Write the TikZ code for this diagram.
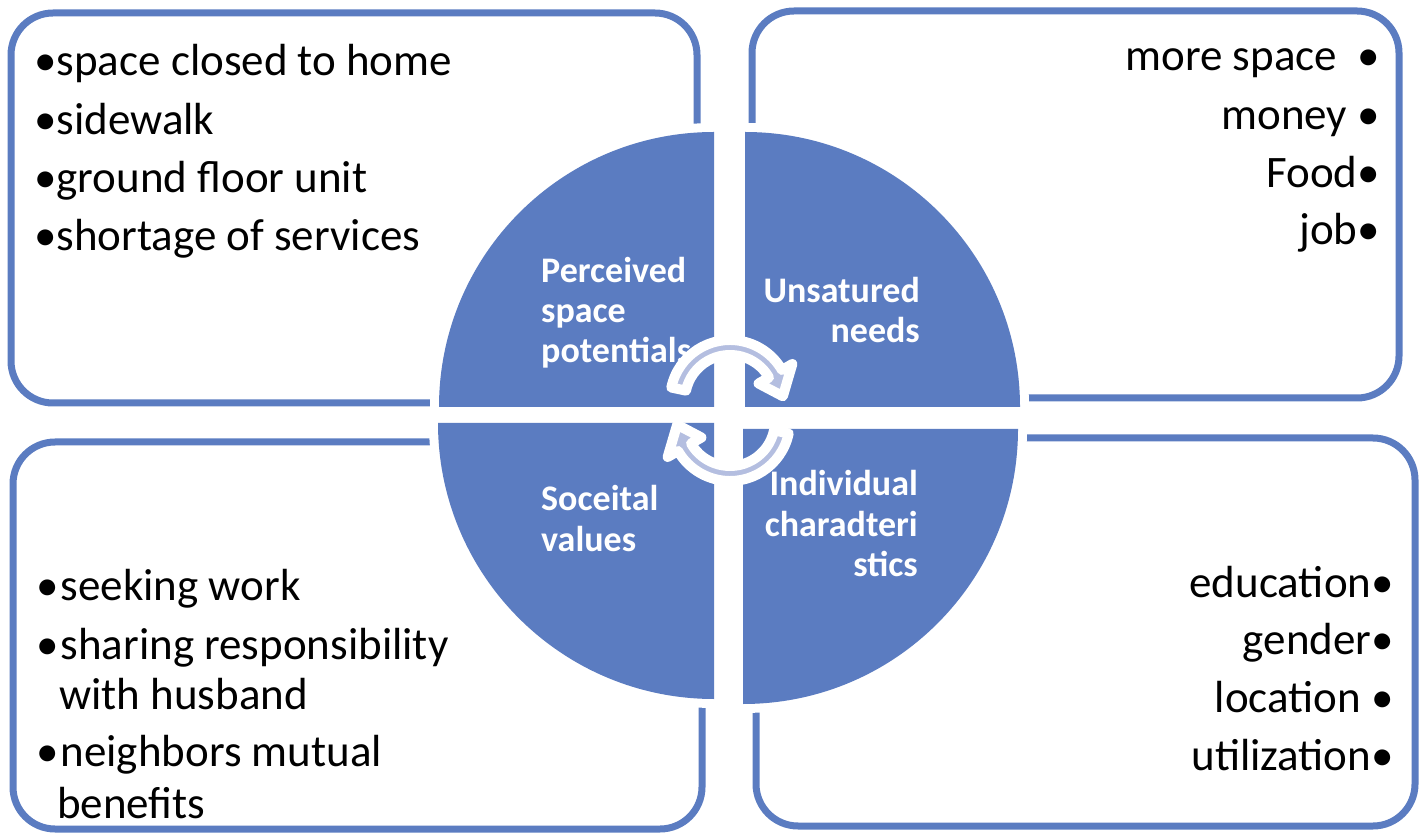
\documentclass[tikz,border=0pt]{standalone}
\usepackage{fontspec}
\setmainfont{Carlito}
\definecolor{quad}{RGB}{91,124,193}
\definecolor{arrowfill}{RGB}{180,190,224}
\begin{document}
\begin{tikzpicture}[x=1pt,y=1pt,
  panel/.style={draw=quad, line width=7pt, rounded corners=42pt, fill=white},
  halo/.style={fill=white, draw=white, line width=18pt, line join=round},
  quarter/.style={fill=quad},
  itemtext/.style={inner sep=0pt, font=\fontsize{45}{54}\selectfont, text=black},
  quadlabel/.style={inner sep=0pt, font=\fontsize{36}{40}\selectfont\bfseries, text=white},
  cyclearrow/.style={fill=arrowfill, draw=white, line width=10pt, line join=round}]
\useasboundingbox (0,0) rectangle (1426,836);

% four outer panels
\draw[panel] (11,433) rectangle (697,823);
\draw[panel] (752,438) rectangle (1399,825);
\draw[panel] (13,7) rectangle (702,394);
\draw[panel] (756,10) rectangle (1415,398);

% white halos that cut the panel borders around the central disc
\path[halo] (714,429) -- (439,429) arc[start angle=180,end angle=90,radius=275] -- cycle;
\path[halo] (745,429) -- (1020,429) arc[start angle=0,end angle=90,radius=275] -- cycle;
\path[halo] (714,413) -- (438,413) arc[start angle=180,end angle=270,radius=276] -- cycle;
\path[halo] (743,407) -- (1018,407) arc[start angle=0,end angle=-90,radius=275] -- cycle;

% the four quarters of the disc
\fill[quarter] (714,429) -- (439,429) arc[start angle=180,end angle=90,radius=275] -- cycle;
\fill[quarter] (745,429) -- (1020,429) arc[start angle=0,end angle=90,radius=275] -- cycle;
\fill[quarter] (714,413) -- (438,413) arc[start angle=180,end angle=270,radius=276] -- cycle;
\fill[quarter] (743,407) -- (1018,407) arc[start angle=0,end angle=-90,radius=275] -- cycle;

% quarter labels
\node[quadlabel, anchor=base west] (psp1) at (541,553) {Perceived};
\node[quadlabel, anchor=base west] (psp2) at (541,513) {space};
\node[quadlabel, anchor=base west] (psp3) at (541,473) {potentials};
\node[quadlabel, anchor=base east] (un1) at (920,533) {Unsatured};
\node[quadlabel, anchor=base east] (un2) at (920,493) {needs};
\node[quadlabel, anchor=base west] (sv1) at (541,325) {Soceital};
\node[quadlabel, anchor=base west] (sv2) at (541,285) {values};
\node[quadlabel, anchor=base east] (ic1) at (918,340) {Individual};
\node[quadlabel, anchor=base east] (ic2) at (918,300) {charadteri};
\node[quadlabel, anchor=base east] (ic3) at (918,260) {stics};

% circular arrows in the middle
\begin{scope}[shift={(730,436)}]
  \path[cyclearrow] (168:60) arc[start angle=168,end angle=30,radius=60]
    -- (30:72) -- (4:53) -- (30:33) -- (30:45)
    arc[start angle=30,end angle=168,radius=45] -- cycle;
\end{scope}
\begin{scope}[shift={(730,415)}, rotate=180]
  \path[cyclearrow] (168:60) arc[start angle=168,end angle=30,radius=60]
    -- (30:72) -- (4:53) -- (30:33) -- (30:45)
    arc[start angle=30,end angle=168,radius=45] -- cycle;
\end{scope}

% top-left list
\node[itemtext, anchor=base west] (tl1) at (34,760) {•space closed to home};
\node[itemtext, anchor=base west] (tl2) at (34,701) {•sidewalk};
\node[itemtext, anchor=base west] (tl3) at (34,643) {•ground floor unit};
\node[itemtext, anchor=base west] (tl4) at (34,585) {•shortage of services};

% top-right list
\node[itemtext, anchor=base east] (tr1) at (1380,765) {more space~~•};
\node[itemtext, anchor=base east] (tr2) at (1380,706) {money~•};
\node[itemtext, anchor=base east] (tr3) at (1380,648) {Food•};
\node[itemtext, anchor=base east] (tr4) at (1380,591) {job•};

% bottom-left list
\node[itemtext, anchor=base west] (bl1) at (36,236) {•\kern2pt seeking work};
\node[itemtext, anchor=base west] (bl2) at (36,177) {•\kern2pt sharing responsibility};
\node[itemtext, anchor=base west] (bl3) at (59,127) {with husband};
\node[itemtext, anchor=base west] (bl4) at (36,70) {•\kern2pt neighbors mutual};
\node[itemtext, anchor=base west] (bl5) at (57,18) {benefits};

% bottom-right list
\node[itemtext, anchor=base east] (br1) at (1394,239) {education•};
\node[itemtext, anchor=base east] (br2) at (1394,182) {gender•};
\node[itemtext, anchor=base east] (br3) at (1394,124) {location~•};
\node[itemtext, anchor=base east] (br4) at (1394,66) {utilization•};
\end{tikzpicture}
\end{document}
